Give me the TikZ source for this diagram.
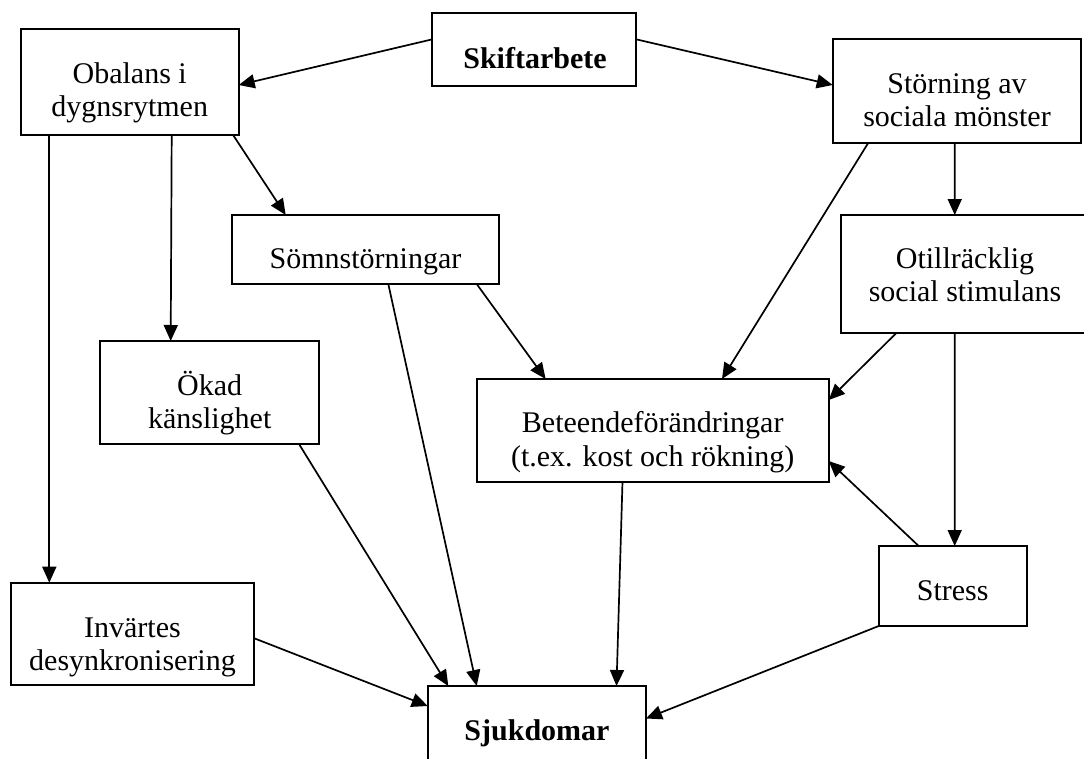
\documentclass[tikz,border=0pt]{standalone}
\usepackage{fontspec}
\setmainfont{Liberation Serif}
\usetikzlibrary{arrows.meta}
% two centred lines whose baseline is the baseline of the first line
\newcommand\stackedtext[2]{\begin{tabular}[t]{@{}c@{}}#1\\#2\end{tabular}}
\begin{document}
\begin{tikzpicture}[x=1pt,y=-1pt,
  box/.style={draw, rectangle, line width=2pt, inner sep=0pt, outer sep=0pt},
  txt/.style={anchor=base, inner sep=0pt, font=\fontsize{30}{33.4}\selectfont},
  link/.style={line width=1.7pt, -{Triangle[length=16pt,width=14pt]}}]
\useasboundingbox (0,0) rectangle (1084,758);
\clip (0,0) rectangle (1084,758);

% boxes
\node[box, minimum width=203.7pt, minimum height=73.3pt]  (skift)    at (534.2,49.35) {};
\node[box, minimum width=218pt,   minimum height=106.3pt] (obalans)  at (129.7,82.15) {};
\node[box, minimum width=248.6pt, minimum height=104pt]   (storning) at (957,91.3) {};
\node[box, minimum width=266.4pt, minimum height=69pt]    (somn)     at (365.5,249.5) {};
\node[box, minimum width=247.7pt, minimum height=118pt]   (otill)    at (965.2,274) {};
\node[box, minimum width=218.7pt, minimum height=103pt]   (okad)     at (209.65,392.5) {};
\node[box, minimum width=352pt,   minimum height=102.5pt] (beteende) at (652.7,430.25) {};
\node[box, minimum width=147.8pt, minimum height=80pt]    (stress)   at (952.6,586) {};
\node[box, minimum width=243.6pt, minimum height=102.3pt] (invartes) at (132.5,633.85) {};
\node[box, minimum width=218.3pt, minimum height=94pt]    (sjuk)     at (536.85,733) {};

% texts
\node[txt] (skift-t)    at (535,68.3)    {\textbf{Skiftarbete}};
\node[txt] (obalans-t)  at (129.7,83.5)  {\stackedtext{Obalans i}{dygnsrytmen}};
\node[txt] (storning-t) at (957,93)      {\stackedtext{Störning av}{sociala mönster}};
\node[txt] (somn-t)     at (365.5,268.3) {Sömnstörningar};
\node[txt] (otill-t)    at (965,268.3)   {\stackedtext{Otillräcklig}{social stimulans}};
\node[txt] (okad-t)     at (209.7,395)   {\stackedtext{Ökad}{känslighet}};
\node[txt] (beteende-t) at (652.7,432.7) {\stackedtext{Beteendeförändringar}{(t.ex. kost och rökning)}};
\node[txt] (stress-t)   at (952.7,600)   {Stress};
\node[txt] (invartes-t) at (132.5,637.5) {\stackedtext{Invärtes}{desynkronisering}};
\node[txt] (sjuk-t)     at (537,740)     {\textbf{Sjukdomar}};

% connectors
\draw[link] ([shift={(0,26.6)}]skift.north west) -- ([shift={(0,56)}]obalans.north east);
\draw[link] ([shift={(0,26.6)}]skift.north east) -- ([shift={(0,45.7)}]storning.north west);
\draw[link] ([shift={(-5.4,0)}]obalans.south east) -- ([shift={(53.4,0)}]somn.north west);
\draw[link] ([shift={(28.6,0)}]obalans.south west) -- ([shift={(38.6,0)}]invartes.north west);
\draw[link] ([shift={(151,0)}]obalans.south west) -- ([shift={(70.4,0)}]okad.north west);
\draw[link] ([shift={(122,0)}]storning.south west) -- ([shift={(113.4,0)}]otill.north west);
\draw[link] ([shift={(35.3,0)}]storning.south west) -- ([shift={(245.3,0)}]beteende.north west);
\draw[link] ([shift={(-22,0)}]somn.south east) -- ([shift={(68.9,0)}]beteende.north west);
\draw[link] ([shift={(156,0)}]somn.south west) -- ([shift={(49,0)}]sjuk.north west);
\draw[link] ([shift={(55,0)}]otill.south west) -- ([shift={(0,21)}]beteende.north east);
\draw[link] ([shift={(113.4,0)}]otill.south west) -- ([shift={(76,0)}]stress.north west);
\draw[link] ([shift={(40,0)}]stress.north west) -- ([shift={(0,-20.5)}]beteende.south east);
\draw[link] ([shift={(-20,0)}]okad.south east) -- ([shift={(20.6,0)}]sjuk.north west);
\draw[link] ([shift={(145.8,0)}]beteende.south west) -- ([shift={(188.8,0)}]sjuk.north west);
\draw[link] (stress.south west) -- ([shift={(0,32.5)}]sjuk.north east);
\draw[link] ([shift={(0,55.6)}]invartes.north east) -- ([shift={(0,20)}]sjuk.north west);
\end{tikzpicture}
\end{document}
